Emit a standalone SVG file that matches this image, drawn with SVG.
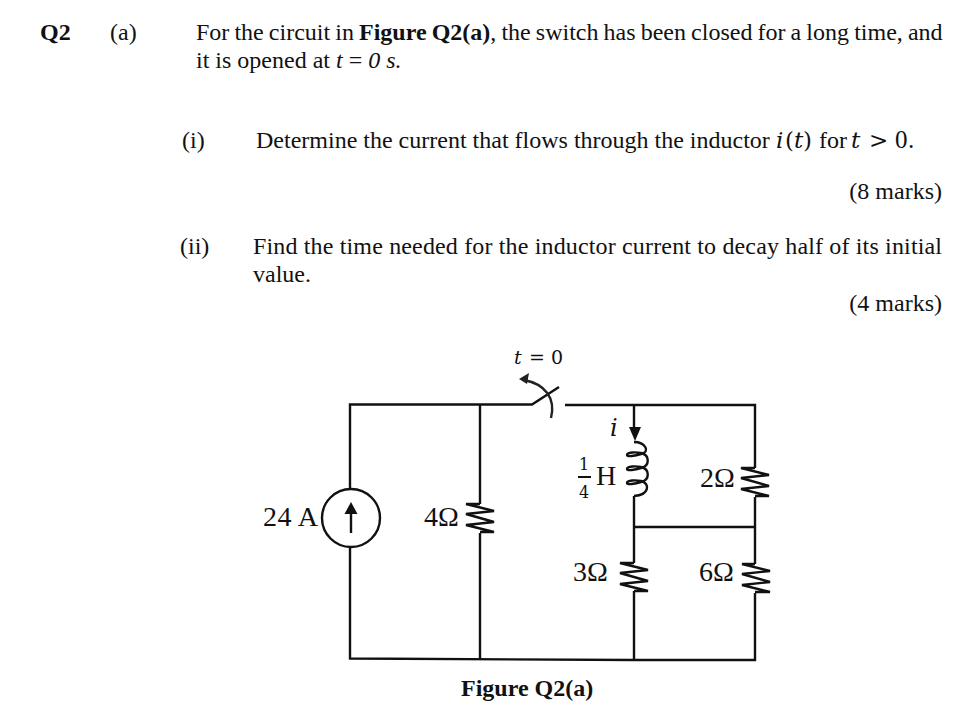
<svg xmlns="http://www.w3.org/2000/svg" width="976" height="727" viewBox="0 0 976 727">
<style>
text{font-family:"Liberation Serif","Times New Roman",serif;font-size:24px;fill:#111}
.b{font-weight:bold}
.i{font-style:italic}
.m{font-family:"DejaVu Serif","Liberation Serif",serif;font-size:23px}
.l{font-size:28px}
.w{fill:none;stroke:#111;stroke-width:2.4}
.t{fill:none;stroke:#222;stroke-width:2.4}
.z{fill:none;stroke:#111;stroke-width:2.4}
</style>
<g id="text">
<text x="40" y="40" class="b">Q2</text>
<text x="110" y="40">(a)</text>
<text x="196" y="40" word-spacing="-0.9">For the circuit in <tspan class="b">Figure Q2(a)</tspan>, the switch has been closed for a long time, and</text>
<text x="196" y="68">it is opened at <tspan class="i">t</tspan> = <tspan class="i">0 s.</tspan></text>
<text x="182" y="148">(i)</text>
<text x="256" y="148">Determine the current that flows through the inductor</text>
<text y="148" class="m"><tspan x="776" class="i">i</tspan><tspan x="785">(</tspan><tspan x="794" class="i">t</tspan><tspan x="803">)</tspan></text>
<text x="819" y="148">for</text>
<text x="851" y="148" class="m"><tspan class="i">t</tspan></text>
<text x="869" y="148" class="m">&gt;</text>
<text y="148" style="font-size:25px"><tspan x="895">0</tspan><tspan x="908">.</tspan></text>
<text x="942" y="199" text-anchor="end">(8 marks)</text>
<text x="180" y="254">(ii)</text>
<text x="253" y="254" textLength="689">Find the time needed for the inductor current to decay half of its initial</text>
<text x="253" y="282">value.</text>
<text x="942" y="311" text-anchor="end">(4 marks)</text>
</g>
<g id="connectors">
<path class="w" d="M350 489V404.500H480M480 404.500H532L559 387"/>
<path class="w" d="M565 405H755V468M755 497V564M634 527H755M755 593V660H634L350 658.500V547"/>
<path class="w" d="M480 404.500V504M480 533V659"/>
<path class="w" d="M634 405V428M634 496V563M634 591V659"/>
</g>
<g id="switch">
<path class="t" d="M551 418C556 398 545 384 524 380"/>
<path d="M519 379L529 373L527 384Z" fill="#222"/>
<text x="514" y="364" class="i" style="font-family:'DejaVu Serif',serif;font-size:19px">t</text>
<text x="529" y="364" style="font-family:'DejaVu Serif',serif;font-size:19px">= 0</text>
</g>
<g id="source">
<circle class="w" cx="351" cy="518" r="29"/>
<path class="w" d="M351 533V510"/>
<path d="M351 502L357.500 514H344.500Z" fill="#111"/>
<text x="263" y="526" class="l" textLength="55">24 A</text>
</g>
<g id="r4">
<path class="z" d="M480 504H466L494 511L466 514L494 522L466 525L494 532H480"/>
<text x="424" y="526" class="l">4Ω</text>
</g>
<g id="inductor">
<path d="M629 427H641L635 441Z" fill="#111"/>
<path class="w" d="M634 442C645 442 651 452 641 454C635 456 627 457 627 455C627 452 636 452 641 453C650 455 650 466 641 468C635 470 627 471 627 469C627 466 636 466 641 467C650 469 650 480 641 482C635 484 627 485 627 483C627 480 636 480 641 481C650 483 650 495 634 496"/>
<text x="610" y="436" class="i" style="font-family:'DejaVu Serif',serif;font-size:24px">i</text>
<text x="579" y="470" style="font-size:16px;font-family:'DejaVu Serif',serif">1</text>
<rect x="578" y="476" width="13" height="2" fill="#111"/>
<text x="579" y="498" style="font-size:16px;font-family:'DejaVu Serif',serif">4</text>
<text x="596" y="485" class="l">H</text>
</g>
<g id="r2">
<path class="z" d="M755 468H741L769 475L741 478L769 486L741 489L769 496H755"/>
<text x="700" y="487" class="l">2Ω</text>
</g>
<g id="r3">
<path class="z" d="M634 563H620L648 570L620 573L648 581L620 584L648 591H634"/>
<text x="573" y="581" class="l">3Ω</text>
</g>
<g id="r6">
<path class="z" d="M755 564H742L770 571L742 574L770 582L742 585L770 592H755"/>
<text x="699" y="581" class="l">6Ω</text>
</g>
<text x="461" y="696" class="b">Figure Q2(a)</text>
</svg>
